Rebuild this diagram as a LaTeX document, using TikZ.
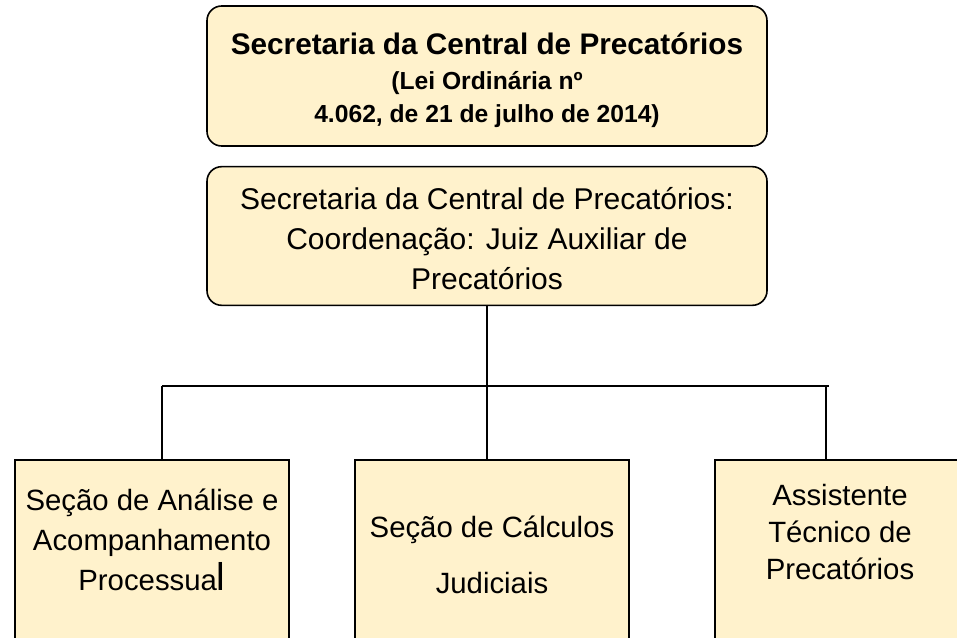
\documentclass[tikz,border=0pt]{standalone}
\usepackage{fontspec}
\setmainfont{Liberation Sans}
\usetikzlibrary{positioning}
\definecolor{boxfill}{HTML}{FFF2CC}

\tikzset{
  headbox/.style={draw, line width=1.2pt, rounded corners=11pt, fill=boxfill,
    minimum width=420pt, align=center, inner sep=0pt},
  unitbox/.style={draw, line width=1.2pt, fill=boxfill, minimum width=205.5pt,
    minimum height=200pt, anchor=north},
  unitlabel/.style={align=center, inner sep=0pt,
    font=\fontsize{22}{30}\selectfont},
  link/.style={line width=1.2pt}
}

\begin{document}
\begin{tikzpicture}[x=0.75pt, y=-0.75pt]

\useasboundingbox (0,0) rectangle (957,638);
\clip (0,0) rectangle (957,638);

% Draw the two head boxes
\node[headbox, minimum height=105pt, font=\bfseries\fontsize{18.5}{24.75}\selectfont]
  (secretaria) at (487,76)
  {\rule{0pt}{22pt}{\fontsize{22.3}{24}\selectfont Secretaria da Central de Precatórios}\\[1.5pt]
   (Lei Ordinária nº\\
   4.062, de 21 de julho de 2014)};

\node[headbox, minimum height=104pt, font=\fontsize{22.5}{30}\selectfont]
  (coord) at (487,236)
  {\rule{0pt}{21pt}Secretaria da Central de Precatórios:\\
   Coordenação: Juiz Auxiliar de\\
   Precatórios};

% Draw the three unit boxes
\node[unitbox] (analise) at (152,459) {};
\node[unitbox] (calculos) at (492,459) {};
\node[unitbox] (assistente) at (852,459) {};

\node[unitlabel] (analisetext) at (152,540)
  {Seção de Análise e\\Acompanhamento\\Processua{\fontsize{29}{30}\selectfont l}};
\node[unitlabel, font=\fontsize{22}{42}\selectfont] (calculostext) at (492,555)
  {Seção de Cálculos\\Judiciais};
\node[unitlabel, font=\fontsize{22}{28}\selectfont] (assistentetext) at (840,532)
  {Assistente\\Técnico de\\Precatórios};

% Draw the connectors
\coordinate (barL) at (162,386);
\coordinate (barR) at (829,386);
\draw[link] (barL) -- (barR);
\draw[link] (coord.south) -- (coord.south |- calculos.north);
\draw[link] (barL) -- (barL |- analise.north);
\draw[link] ([xshift=-2.25pt]barR) -- ([xshift=-2.25pt]barR |- assistente.north);

\end{tikzpicture}
\end{document}
